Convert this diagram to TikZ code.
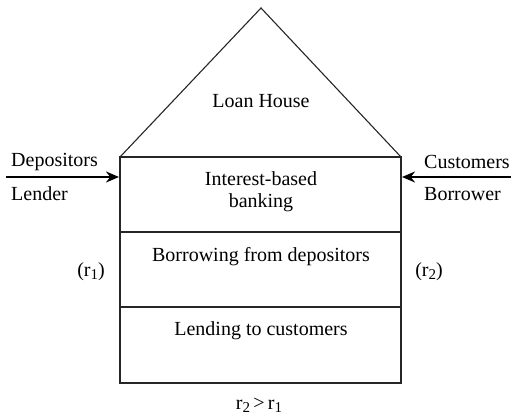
\documentclass[tikz,border=0pt]{standalone}
\usepackage{fontspec}
\setmainfont{Liberation Serif}
\usetikzlibrary{arrows.meta}
\newcommand{\lowsub}[1]{\raisebox{-0.3ex}{\fontsize{15}{15}\selectfont #1}}
\begin{document}
\begin{tikzpicture}[x=1pt,y=-1pt,
  lbl/.style={inner sep=0pt,font=\fontsize{20}{22}\selectfont},
  wall/.style={line width=1.1pt,draw=black!85},
  flow/.style={line width=2.2pt,-{Stealth[length=13pt,width=11pt]}}]
\useasboundingbox (0,0) rectangle (511,418);
% house frame
\coordinate (apex) at (261,8);
\coordinate (tl) at (120,157);
\coordinate (tr) at (401,157);
\coordinate (bl) at (120,383);
\coordinate (br) at (401,383);
\coordinate (d1l) at (120,232);
\coordinate (d1r) at (401,232);
\coordinate (d2l) at (120,307);
\coordinate (d2r) at (401,307);
\draw[wall] (tl) -- (apex) -- (tr);
\draw[wall] (tl) rectangle (br);
\draw[wall] (d1l) -- (d1r);
\draw[wall] (d2l) -- (d2r);
% texts
\node[lbl] (loan) at (261,101) {Loan House};
\node[lbl,align=center] (ib) at (261,192) {Interest-based\\banking};
\node[lbl] (bor) at (261,257) {Borrowing from depositors};
\node[lbl] (lend) at (261,331) {Lending to customers};
\node[lbl,anchor=west] (dep) at (11,162) {Depositors};
\node[lbl,anchor=west] (lender) at (11,194) {Lender};
\node[lbl,anchor=west] (cust) at (424,162) {Customers};
\node[lbl,anchor=west] (borr) at (424,194) {Borrower};
\node[lbl] (r1) at (91,272) {(r\lowsub{1})};
\node[lbl] (r2) at (429,272) {(r\lowsub{2})};
\node[lbl] (ineq) at (259,405) {r\lowsub{2}\,>\,r\lowsub{1}};
% arrows
\coordinate (la) at (6,177);
\coordinate (lb) at (119,177);
\coordinate (ra) at (511,177);
\coordinate (rb) at (402,177);
\draw[flow] (la) -- (lb);
\draw[flow] (ra) -- (rb);
\end{tikzpicture}
\end{document}
